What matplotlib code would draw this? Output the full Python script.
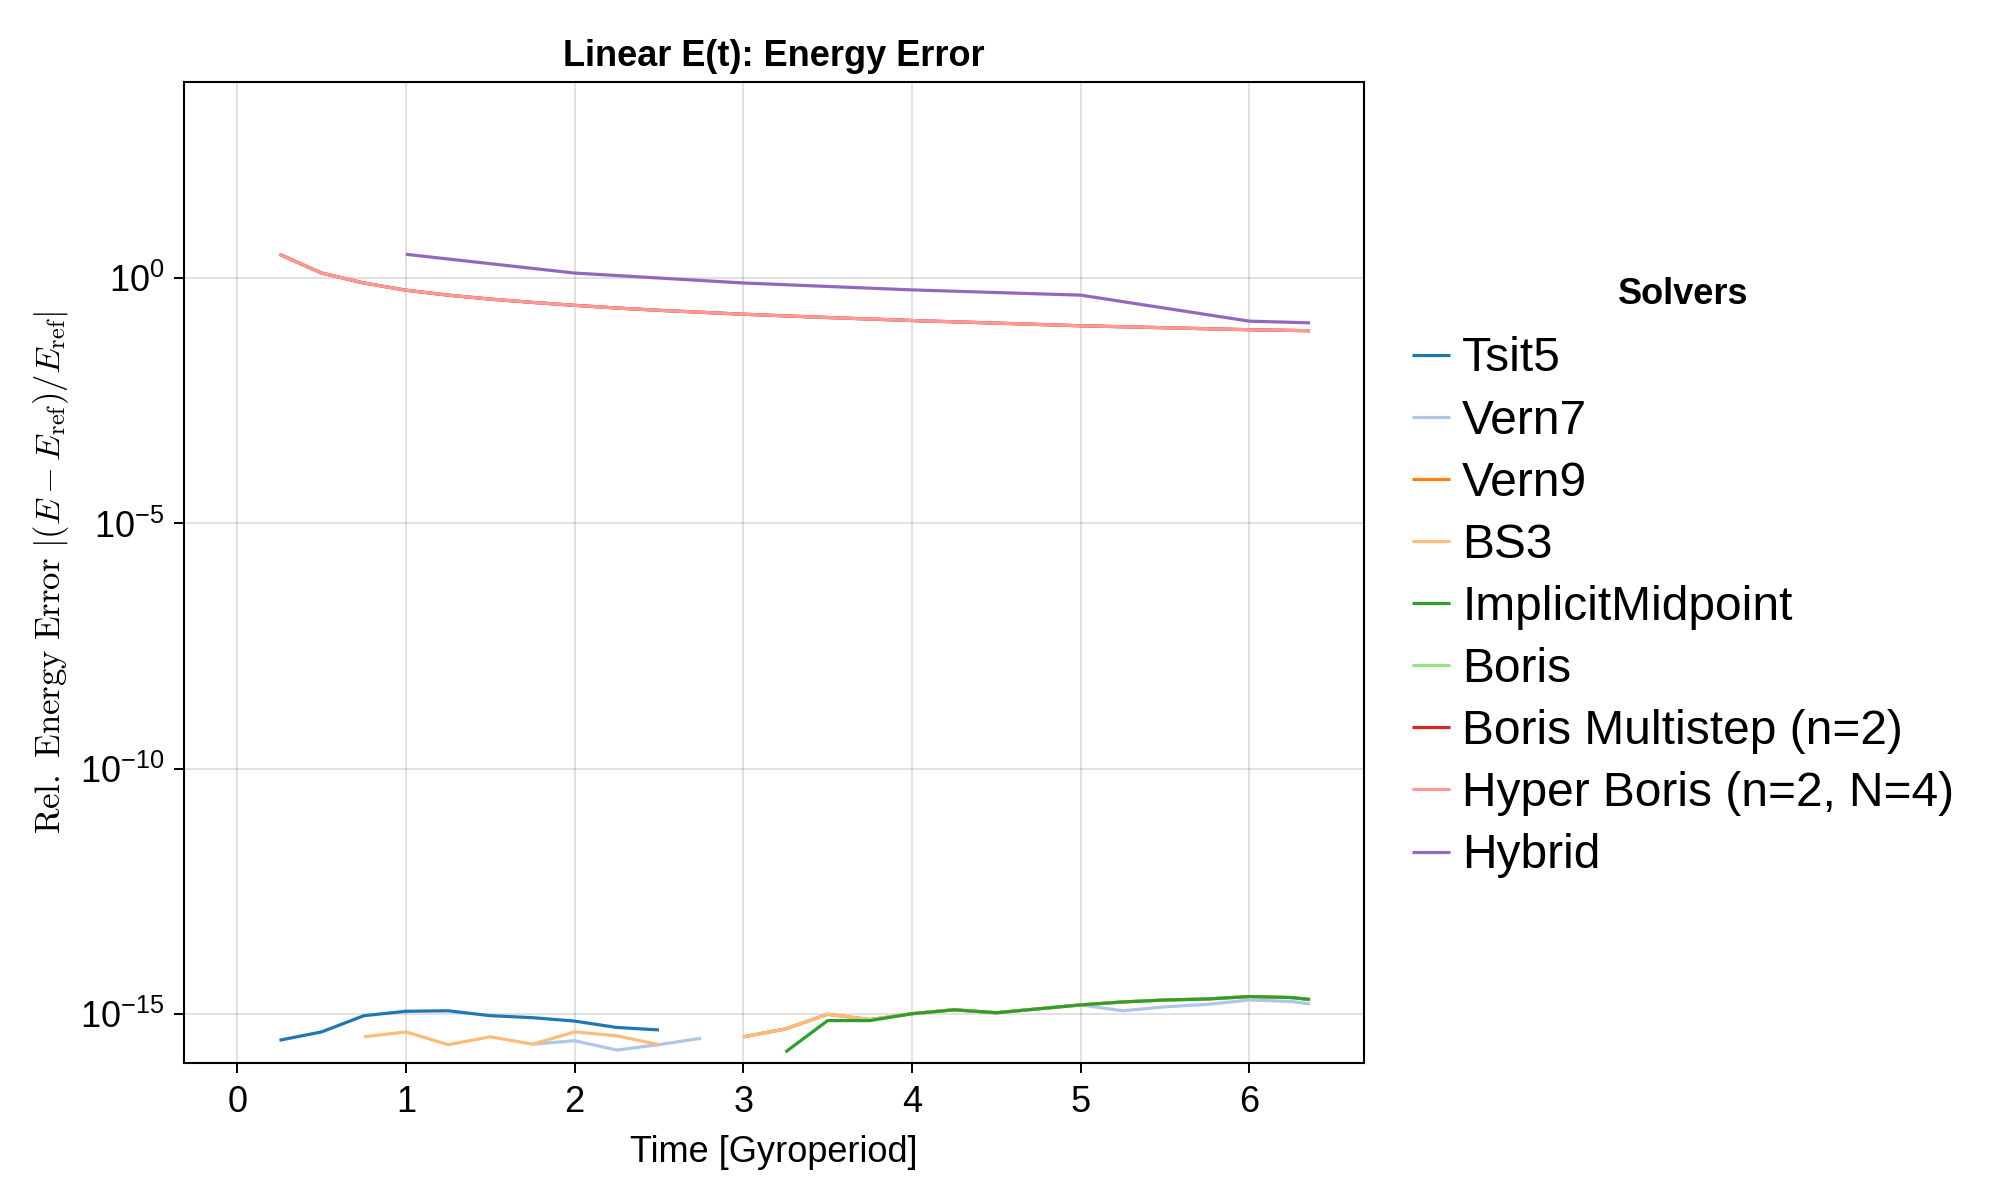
import numpy as np
import matplotlib
matplotlib.use("Agg")
import matplotlib.pyplot as plt

plt.rcParams['font.family'] = ['Liberation Sans', 'DejaVu Sans']
plt.rcParams['mathtext.fontset'] = 'custom'
plt.rcParams['mathtext.rm'] = 'Liberation Sans'
plt.rcParams['mathtext.it'] = 'Liberation Sans:italic'
plt.rcParams['mathtext.bf'] = 'Liberation Sans:bold'

# ---- data (log10 of relative energy error) ----
t_tsit5 = [0.25, 0.5, 0.75, 1.0, 1.25, 1.5, 1.75, 2.0, 2.25, 2.5]
e_tsit5 = [-15.53, -15.36, -15.03, -14.94, -14.93, -15.03, -15.07, -15.14, -15.27, -15.32]

t_vern7a = [1.75, 2.0, 2.25, 2.5, 2.75]
e_vern7a = [-15.61, -15.54, -15.73, -15.62, -15.49]
t_vern7b = [3.0, 3.25, 3.5, 3.75, 4.0, 4.25, 4.5, 4.75, 5.0, 5.25, 5.5, 5.75, 6.0, 6.25, 6.36]
e_vern7b = [-15.46, -15.30, -15.00, -15.11, -14.99, -14.91, -14.97, -14.89, -14.81,
            -14.93, -14.85, -14.80, -14.71, -14.74, -14.79]

t_bs3a = [0.75, 1.0, 1.25, 1.5, 1.75, 2.0, 2.25, 2.5]
e_bs3a = [-15.46, -15.36, -15.62, -15.46, -15.61, -15.36, -15.44, -15.62]
t_bs3b = [3.0, 3.25, 3.5, 3.75, 4.0, 4.25, 4.5, 4.75, 5.0, 5.25, 5.5, 5.75, 6.0, 6.25, 6.36]
e_bs3b = [-15.46, -15.30, -15.00, -15.11, -14.99, -14.91, -14.97, -14.89, -14.81,
          -14.75, -14.71, -14.69, -14.64, -14.66, -14.70]

t_vern9 = t_bs3b
e_vern9 = e_bs3b

t_impl = [3.25, 3.5, 3.75, 4.0, 4.25, 4.5, 4.75, 5.0, 5.25, 5.5, 5.75, 6.0, 6.25, 6.36]
e_impl = [-15.77, -15.13, -15.13, -14.99, -14.91, -14.97, -14.89, -14.81,
          -14.75, -14.71, -14.69, -14.64, -14.66, -14.70]

t_hyper = [0.25, 0.5, 0.75, 1.0, 1.25, 1.5, 1.75, 2.0, 2.25, 2.5, 2.75, 3.0,
           3.5, 4.0, 4.5, 5.0, 5.5, 6.0, 6.36]
e_hyper = [0.483, 0.101, -0.101, -0.248, -0.349, -0.430, -0.497, -0.557, -0.611,
           -0.658, -0.698, -0.738, -0.805, -0.866, -0.919, -0.973, -1.013, -1.054, -1.074]
t_boris = t_hyper
e_boris = e_hyper
t_multi = t_hyper
e_multi = e_hyper

t_hybrid = [1.0, 2.0, 3.0, 4.0, 5.0, 6.0, 6.36]
e_hybrid = [0.483, 0.101, -0.101, -0.242, -0.349, -0.879, -0.913]

solvers = ["Tsit5", "Vern7", "Vern9", "BS3", "ImplicitMidpoint", "Boris",
           "Boris Multistep (n=2)", "Hyper Boris (n=2, N=4)", "Hybrid"]
colors = ["#1f77b4", "#aec7e8", "#ff7f0e", "#ffbb78", "#2ca02c", "#98df8a",
          "#d62728", "#ff9896", "#9467bd"]
series = [
    [(t_tsit5, e_tsit5)],
    [(t_vern7a, e_vern7a), (t_vern7b, e_vern7b)],
    [(t_vern9, e_vern9)],
    [(t_bs3a, e_bs3a), (t_bs3b, e_bs3b)],
    [(t_impl, e_impl)],
    [(t_boris, e_boris)],
    [(t_multi, e_multi)],
    [(t_hyper, e_hyper)],
    [(t_hybrid, e_hybrid)],
]

xticks = [0, 1, 2, 3, 4, 5, 6]
yticks_exp = [0, -5, -10, -15]

fig = plt.figure(figsize=(20, 12), dpi=100)
L, R, B, T = 183.7 / 2000, 1364 / 2000, 1 - 1063.3 / 1200, 1 - 81.7 / 1200
ax = fig.add_axes([L, B, R - L, T - B])

LW = 2.3
handles = []
for name, col, segs in zip(solvers, colors, series):
    h = None
    for (tt, ee) in segs:
        h, = ax.plot(tt, 10.0 ** np.array(ee), color=col, lw=LW, label=name,
                     solid_capstyle='butt', solid_joinstyle='round')
    handles.append(h)

ax.set_yscale('log')
ax.set_xlim(-0.318, 6.68)
ax.set_ylim(1e-16, 1e4)
ax.set_xticks(xticks)
ax.set_xticklabels([str(x) for x in xticks])
ax.set_yticks([10.0 ** e for e in yticks_exp])
ax.set_yticklabels([r"$10^{%s}$" % (str(e).replace('-', '\u2212')) for e in yticks_exp])
ax.yaxis.set_minor_locator(matplotlib.ticker.NullLocator())

ax.grid(True, color='black', alpha=0.12, lw=1.4)
ax.set_axisbelow(True)
for s in ax.spines.values():
    s.set_linewidth(1.5)
    s.set_color('black')
ax.tick_params(axis='both', which='major', direction='out', length=7.5, width=1.4,
               labelsize=26)
ax.tick_params(axis='x', pad=8)
ax.tick_params(axis='y', pad=6.5)

cx = (L + R) / 2
fig.text(cx, 1 - 56 / 1200, "Linear E(t): Energy Error", fontsize=26,
         fontweight='bold', ha='center', va='center')
fig.text(cx, 1 - 1152 / 1200, "Time [Gyroperiod]", fontsize=26,
         ha='center', va='center')
fig.text(51 / 2000, (B + T) / 2,
         r"$\mathrm{Rel.\ Energy\ Error}\ |(E - E_\mathrm{ref})/E_\mathrm{ref}|$",
         fontsize=25, math_fontfamily='cm', rotation=90, ha='center', va='center')

leg = fig.legend(handles=handles, labels=solvers, loc='upper left',
                 bbox_to_anchor=(0.6888, 0.7984), frameon=False, fontsize=34.5,
                 title="Solvers", title_fontproperties={'size': 26, 'weight': 'bold'},
                 handlelength=0.79, handletextpad=0.25, labelspacing=0.357,
                 borderpad=0.726, borderaxespad=0)
leg._legend_box.sep = 17.8
for lh in leg.get_lines():
    lh.set_linewidth(LW)

fig.savefig("out.png", dpi=100)
